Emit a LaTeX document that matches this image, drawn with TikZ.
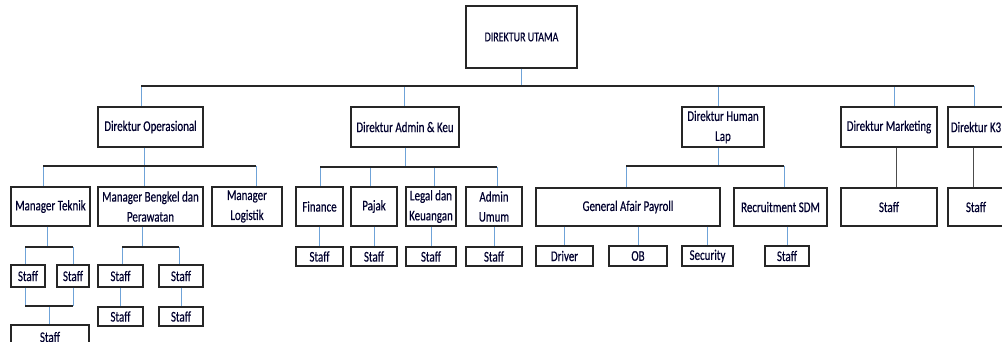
\documentclass[tikz,border=0pt]{standalone}
\usepackage{fontspec}
\setmainfont{Carlito}[FakeStretch=0.74,FakeBold=0.4]
\begin{document}
\begin{tikzpicture}[x=1pt,y=-1pt,
  bx/.style 2 args={draw=black!85, line width=1.1pt, fill=white, minimum width=#1, minimum height=#2,
     inner sep=0pt, align=center, text=black!80!blue!90!black, font=\fontsize{14.8}{20}\selectfont},
  bus/.style={draw=black!85, line width=1.2pt},
  dark/.style={draw=black!70, line width=1pt}]
\definecolor{lnblue}{HTML}{6FA3D8}
\tikzset{conn/.style={draw=lnblue, line width=0.9pt}}
\clip (0,0) rectangle (1002,342);
\fill[white] (0,0) rectangle (1002,342);

% ---- nodes ----
\node[bx={111pt}{62pt}, font=\fontsize{13.5}{20}\selectfont] (utama) at (521.5,37) {DIREKTUR UTAMA};

\node[bx={105pt}{40pt}] (op)  at (150.5,127) {Direktur Operasional};
\node[bx={108pt}{40pt}] (adm) at (405,127)   {Direktur Admin \& Keu};
\node[bx={82pt}{40pt}]  (hum) at (723,127)   {Direktur Human\\Lap};
\node[bx={96pt}{40pt}]  (mkt) at (889,127)   {Direktur Marketing};
\node[bx={56pt}{40pt}]  (k3)  at (976,127)   {Direktur K3};

\node[bx={79pt}{39pt}]  (mt) at (50.5,206.5)  {Manager Teknik};
\node[bx={105pt}{39pt}] (mb) at (150.5,206.5) {Manager Bengkel dan\\Perawatan};
\node[bx={70pt}{39pt}]  (ml) at (247,206.5)   {Manager\\Logistik};

\node[bx={34pt}{22pt}] (s1) at (28,276)  {Staff};
\node[bx={32pt}{22pt}] (s2) at (73,276)  {Staff};
\node[bx={78pt}{24pt}] (s3) at (50,337)  {Staff};

\node[bx={45pt}{22pt}] (b1) at (120.5,276)  {Staff};
\node[bx={44pt}{22pt}] (b2) at (181,276)    {Staff};
\node[bx={45pt}{19pt}] (b3) at (120.5,316.5) {Staff};
\node[bx={44pt}{19pt}] (b4) at (181,316.5)   {Staff};

\node[bx={47pt}{39pt}] (fin) at (319.5,206.5) {Finance};
\node[bx={46pt}{39pt}] (paj) at (374,206.5)   {Pajak};
\node[bx={50pt}{39pt}] (leg) at (431,206.5)   {Legal dan\\Keuangan};
\node[bx={56pt}{39pt}] (umu) at (494,206.5)   {Admin\\Umum};
\node[bx={47pt}{19pt}] (fs) at (319.5,256.5) {Staff};
\node[bx={46pt}{19pt}] (ps) at (374,256.5)   {Staff};
\node[bx={50pt}{19pt}] (ls) at (431,256.5)   {Staff};
\node[bx={56pt}{19pt}] (us) at (494,256.5)   {Staff};

\node[bx={184pt}{38pt}] (gap) at (628,207)   {General Afair Payroll};
\node[bx={93pt}{38pt}]  (rec) at (780.5,207) {Recruitment SDM};
\node[bx={57pt}{20pt}] (drv) at (564.5,256) {Driver};
\node[bx={58pt}{20pt}] (ob)  at (638,256)   {OB};
\node[bx={51pt}{20pt}] (sec) at (707.5,256) {Security};
\node[bx={44pt}{20pt}] (rs)  at (787,256)   {Staff};

\node[bx={96pt}{38pt}] (ms) at (889,207) {Staff};
\node[bx={56pt}{38pt}] (ks) at (976,207) {Staff};

% ---- connectors ----
\coordinate (d1) at (141,86);
\coordinate (d2) at (404,86);
\coordinate (d3) at (718,86);
\coordinate (d4) at (894,86);
\coordinate (d5) at (974,86);
\draw[conn] (utama.south) -- (utama.south |- d1);
\foreach \c/\n in {d1/op,d2/adm,d3/hum,d4/mkt,d5/k3}
  \draw[conn] (\c) -- (\c |- \n.north);
\draw[bus] (d1) -- (d5);

% Operasional
\coordinate (oa) at (43,166);
\coordinate (om) at (144,166);
\coordinate (oc) at (256,166);
\draw[conn] (om |- op.south) -- (om);
\draw[conn] (oa) -- (oa |- mt.north);
\draw[conn] (om) -- (om |- mb.north);
\draw[conn] (oc) -- (oc |- ml.north);
\draw[bus] (oa) -- (oc);

% Manager Teknik
\coordinate (ta) at (25,247);
\coordinate (tm) at (47,247);
\coordinate (tb) at (73,247);
\draw[conn] (tm |- mt.south) -- (tm);
\draw[conn] (ta) -- (ta |- s1.north);
\draw[conn] (tb) -- (tb |- s2.north);
\draw[bus] (ta) -- (tb);
\coordinate (ua) at (25,306);
\coordinate (um) at (49,306);
\coordinate (ub) at (73,306);
\draw[conn] (ua |- s1.south) -- (ua);
\draw[conn] (ub |- s2.south) -- (ub);
\draw[conn] (um) -- (um |- s3.north);
\draw[bus] (ua) -- (ub);

% Manager Bengkel
\coordinate (ma) at (122,247);
\coordinate (mm) at (142,247);
\coordinate (mc) at (179,247);
\draw[conn] (mm |- mb.south) -- (mm);
\draw[conn] (ma) -- (ma |- b1.north);
\draw[conn] (mc) -- (mc |- b2.north);
\draw[bus] (ma) -- (mc);
\draw[conn] (b1.south) -- (b3.north);
\draw[conn] (b2.south) -- (b4.north);

% Admin & Keu
\coordinate (aa) at (320,167);
\coordinate (am) at (405,167);
\coordinate (ab) at (370,167);
\coordinate (ac) at (434,167);
\coordinate (ad) at (497,167);
\draw[conn] (adm.south) -- (am);
\draw[conn] (aa) -- (aa |- fin.north);
\draw[conn] (ab) -- (ab |- paj.north);
\draw[conn] (ac) -- (ac |- leg.north);
\draw[conn] (ad) -- (ad |- umu.north);
\draw[bus] (aa) -- (ad);
\draw[conn] (fin.south) -- (fs.north);
\draw[conn] (paj.south) -- (ps.north);
\draw[conn] (leg.south) -- (ls.north);
\draw[conn] (umu.south) -- (us.north);

% Human
\coordinate (ha) at (626,166);
\coordinate (hm) at (718,166);
\coordinate (hb) at (784,166);
\draw[conn] (hm |- hum.south) -- (hm);
\draw[conn] (ha) -- (ha |- gap.north);
\draw[conn] (hb) -- (hb |- rec.north);
\draw[bus] (ha) -- (hb);
\draw[conn] (drv.north |- gap.south) -- (drv.north);
\draw[conn] (ob.north |- gap.south) -- (ob.north);
\draw[conn] (sec.north |- gap.south) -- (sec.north);
\draw[conn] (rs.north |- rec.south) -- (rs.north);

% Marketing, K3
\coordinate (mk) at (896,167);
\coordinate (kk) at (973,167);
\draw[dark] (mk |- mkt.south) -- (mk |- ms.north);
\draw[dark] (kk |- k3.south) -- (kk |- ks.north);
\end{tikzpicture}
\end{document}
